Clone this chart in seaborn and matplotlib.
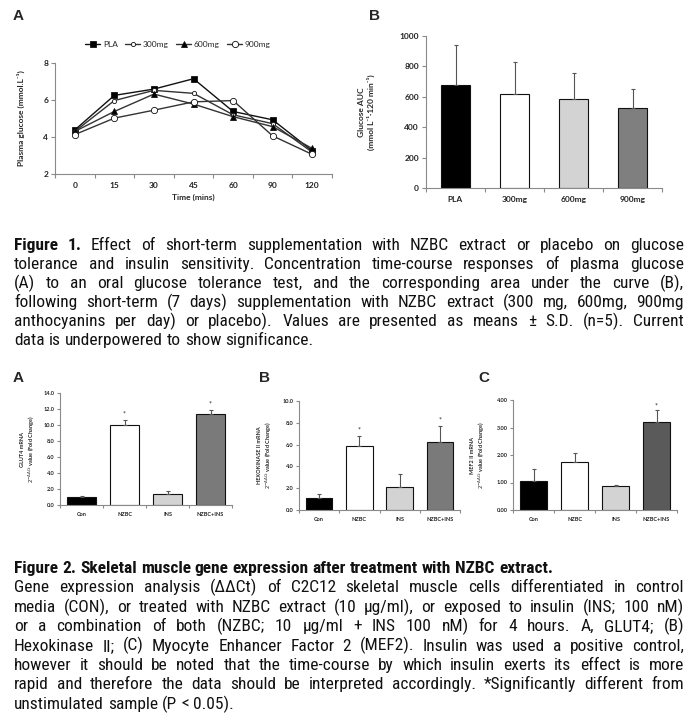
import numpy as np
import pandas as pd
import seaborn as sns
import matplotlib.pyplot as plt
from matplotlib import font_manager

sns.set_theme(style='ticks')
plt.rcParams['font.family'] = ['Lato', 'DejaVu Sans']

W, H = 699, 720

# Figure 1A - plasma glucose during OGTT
times = ['0', '15', '30', '45', '60', '90', '120']
doses = ['PLA', '300mg', '600mg', '900mg']
pla = [4.38, 6.25, 6.59, 7.15, 5.38, 4.93, 3.25]
mg300 = [4.30, 5.97, 6.52, 6.36, 5.20, 4.72, 3.18]
mg600 = [4.30, 5.38, 6.32, 5.78, 5.10, 4.56, 3.38]
mg900 = [4.13, 5.02, 5.45, 5.90, 5.97, 4.06, 3.06]

# Figure 1B - glucose AUC
auc_mean = [680, 620, 583, 528]
auc_sd = [259, 209, 174, 125]

# Figure 2 - gene expression
groups = ['Con', 'NZBC', 'INS', 'NZBC+INS']
glut4 = [1.0, 9.96, 1.42, 11.38]
glut4_sd = [0.08, 0.72, 0.33, 0.50]
hk2 = [1.10, 5.84, 2.10, 6.24]
hk2_sd = [0.40, 0.92, 1.23, 1.44]
mef2 = [1.04, 1.73, 0.88, 3.19]
mef2_sd = [0.45, 0.34, 0.04, 0.43]
glut4_sig = [False, True, False, True]
hk2_sig = [False, True, False, True]
mef2_sig = [False, False, False, True]

caption1 = [
    "Figure 1. Effect of short-term supplementation with NZBC extract or placebo on glucose",
    "tolerance and insulin sensitivity. Concentration time-course responses of plasma glucose",
    "(A) to an oral glucose tolerance test, and the corresponding area under the curve (B),",
    "following short-term (7 days) supplementation with NZBC extract (300 mg, 600mg, 900mg",
    "anthocyanins per day) or placebo). Values are presented as means ± S.D. (n=5). Current",
    "data is underpowered to show significance.",
]
caption2 = [
    "Figure 2. Skeletal muscle gene expression after treatment with NZBC extract.",
    "Gene expression analysis (ΔΔCt) of C2C12 skeletal muscle cells differentiated in control",
    "media (CON), or treated with NZBC extract (10 µg/ml), or exposed to insulin (INS; 100 nM)",
    "or a combination of both (NZBC; 10 µg/ml + INS 100 nM) for 4 hours. A, GLUT4; (B)",
    "Hexokinase II; (C) Myocyte Enhancer Factor 2 (MEF2). Insulin was used a positive control,",
    "however it should be noted that the time-course by which insulin exerts its effect is more",
    "rapid and therefore the data should be interpreted accordingly. *Significantly different from",
    "unstimulated sample (P < 0.05).",
]

fig = plt.figure(figsize=(W / 100, H / 100), dpi=100)
fig.patch.set_facecolor('white')


def box(l, t, r, b):
    return [l / W, 1 - b / H, (r - l) / W, (b - t) / H]


def style_axes(ax, n, fs, tick_len=3):
    sns.despine(ax=ax)
    for s in ['left', 'bottom']:
        ax.spines[s].set_color('#8a8a8a')
        ax.spines[s].set_linewidth(0.8)
    ax.set_xlim(-0.5, n - 0.5)
    ax.set_xticks(np.arange(-0.5, n, 1), minor=True)
    ax.tick_params(axis='x', which='major', length=0, labelsize=fs, pad=tick_len + 3)
    ax.tick_params(axis='x', which='minor', length=tick_len, color='#8a8a8a', width=0.8)
    ax.tick_params(axis='y', length=tick_len, color='#8a8a8a', width=0.8, labelsize=fs, pad=2)
    for lab in ax.get_xticklabels() + ax.get_yticklabels():
        lab.set_fontweight('bold')
        lab.set_color('#222222')


# ---- Figure 1A
ax1 = fig.add_axes(box(55, 63, 332, 174))
series = [pla, mg300, mg600, mg900]
markers = ['s', 'o', '^', 'o']
faces = ['black', 'white', 'black', 'white']
msizes = [4, 3, 4, 4.5]
lcolors = ['#111111', '#333333', '#333333', '#333333']
xpos = np.arange(len(times))
for vals, name, m, fc, ms, lc in zip(series, doses, markers, faces, msizes, lcolors):
    sns.lineplot(x=xpos, y=vals, ax=ax1, label=name, color=lc, linewidth=1.0,
                 marker=m, markerfacecolor=fc, markeredgecolor='#111111',
                 markersize=ms, markeredgewidth=0.6)
ax1.set_ylim(2, 8)
ax1.set_yticks([2, 4, 6, 8])
ax1.set_xticks(xpos)
ax1.set_xticklabels(times)
ax1.set_xlabel('Time (mins)', fontsize=6, fontweight='bold', labelpad=3)
ax1.set_ylabel('Plasma glucose (mmol.L⁻¹)', fontsize=6, fontweight='bold')
ax1.yaxis.set_label_coords(-30 / 277, 0.5)
style_axes(ax1, len(times), 6)
ax1.legend(loc='center', bbox_to_anchor=(0.444, 1.17), ncol=4, frameon=False,
           fontsize=6, handlelength=1.8, columnspacing=0.9, handletextpad=0.3)


def bar_panel(ax, cats, means, sds, colors, width, fs, sig=None, star_off=0):
    sns.barplot(x=cats, y=means, hue=cats, palette=colors, legend=False, width=width,
                edgecolor='#111111', linewidth=0.8, errorbar=None, ax=ax)
    ax.errorbar(np.arange(len(cats)), means, yerr=[np.zeros(len(sds)), sds], fmt='none',
                ecolor='#555555', elinewidth=0.8, capsize=1.5, capthick=0.8)
    if sig is not None:
        for i, s in enumerate(sig):
            if s:
                ax.text(i, means[i] + sds[i] + star_off, '*', ha='center', va='bottom',
                        fontsize=fs + 1, color='#222222')


# ---- Figure 1B
ax2 = fig.add_axes(box(426, 36, 662, 188))
bar_panel(ax2, doses, auc_mean, auc_sd, ['#000000', '#ffffff', '#d3d3d3', '#7f7f7f'], 0.5, 6)
ax2.set_ylim(0, 1000)
ax2.set_yticks(range(0, 1001, 200))
ax2.set_ylabel('Glucose AUC\n(mmol L⁻¹·120 min⁻¹)', fontsize=6, fontweight='bold', linespacing=1.2)
ax2.yaxis.set_label_coords(-51 / 236, 0.5)
style_axes(ax2, len(doses), 6)

# ---- Figure 2 panels
panels = [
    (box(60, 393, 232, 505), glut4, glut4_sd, glut4_sig, 14, 2, '{:.1f}', 'GLUT4 mRNA', '#7a7a7a', 23, 0.3),
    (box(299, 401, 460, 510), hk2, hk2_sd, hk2_sig, 10, 2, '{:.1f}', 'HEXOKINASE II mRNA', '#7a7a7a', 25, 0.25),
    (box(513, 400, 677, 510), mef2, mef2_sd, mef2_sig, 4, 1, '{:.2f}', 'MEF2 II mRNA', '#5a5a5a', 26, 0.05),
]
for rect, vals, sds, sig, top, step, fmt, gene, last_col, lab_off, soff in panels:
    ax = fig.add_axes(rect)
    bar_panel(ax, groups, vals, sds, ['#000000', '#ffffff', '#d3d3d3', last_col], 0.66, 4,
              sig=sig, star_off=soff)
    ax.set_ylim(0, top)
    ticks = np.arange(0, top + step / 2, step)
    ax.set_yticks(ticks)
    ax.set_yticklabels([fmt.format(t) for t in ticks])
    ax.set_ylabel(gene + '\n' + r'$2^{-\Delta\Delta Ct}$ value (Fold Change)', fontsize=4,
                  fontweight='bold', linespacing=1.2)
    ax.yaxis.set_label_coords(-lab_off / (rect[2] * W), 0.5)
    style_axes(ax, len(groups), 4, tick_len=2)

# ---- panel letters
for x, y, s in [(18, 16, 'A'), (374, 16, 'B'), (18, 378, 'A'), (265, 378, 'B'), (484, 378, 'C')]:
    fig.text(x / W, 1 - y / H, s, ha='center', va='center', fontsize=11, fontweight='bold',
             family=['Liberation Sans', 'DejaVu Sans'])

# ---- captions (justified), pick a narrow face if one is installed
fonts = font_manager.fontManager.ttflist
names = {f.name for f in fonts}
cap_font, cap_stretch = 'Liberation Sans', 'normal'
for cand in ['Liberation Sans Narrow', 'Roboto Condensed', 'Open Sans Condensed']:
    if cand in names:
        cap_font = cand
        break
else:
    if any(f.name == 'DejaVu Sans' and f.stretch == 'condensed' for f in fonts):
        cap_font, cap_stretch = 'DejaVu Sans', 'condensed'

renderer = fig.canvas.get_renderer()


def text_width(s, weight, size):
    t = fig.text(0, 0, s, fontsize=size, family=cap_font, weight=weight, stretch=cap_stretch)
    w = t.get_window_extent(renderer).width
    t.remove()
    return w


# size chosen so the widest justified line nearly fills the column
full = caption1[:-1] + caption2[1:-1]
widest = max(text_width(s, 'normal', 10) for s in full)
cap_size = min(12.5, 10 * 0.975 * 670 / widest)
space = text_width('a a', 'normal', cap_size) - text_width('aa', 'normal', cap_size)


def caption(lines, y0, dy, bold_first, x0=14, x1=684):
    for i, line in enumerate(lines):
        words = line.split(' ')
        if bold_first == 'line' and i == 0:
            nbold = len(words)
        elif bold_first == 'label' and i == 0:
            nbold = 2
        else:
            nbold = 0
        weights = ['bold' if k < nbold else 'normal' for k in range(len(words))]
        widths = [text_width(w, wt, cap_size) for w, wt in zip(words, weights)]
        last = i == len(lines) - 1 or (bold_first == 'line' and i == 0)
        gap = space if last else (x1 - x0 - sum(widths)) / (len(words) - 1)
        x = x0
        # baseline sits a little below the visual centre of the line
        y = 1 - (y0 + i * dy + 5) / H
        for w, wt, wd in zip(words, weights, widths):
            fig.text(x / W, y, w, fontsize=cap_size, family=cap_font, weight=wt,
                     stretch=cap_stretch, va='baseline', ha='left', color='#111111')
            x += wd + gap


caption(caption1, 245, 19, 'label')
caption(caption2, 568, 19.4, 'line')

fig.savefig('out.png', dpi=100)
